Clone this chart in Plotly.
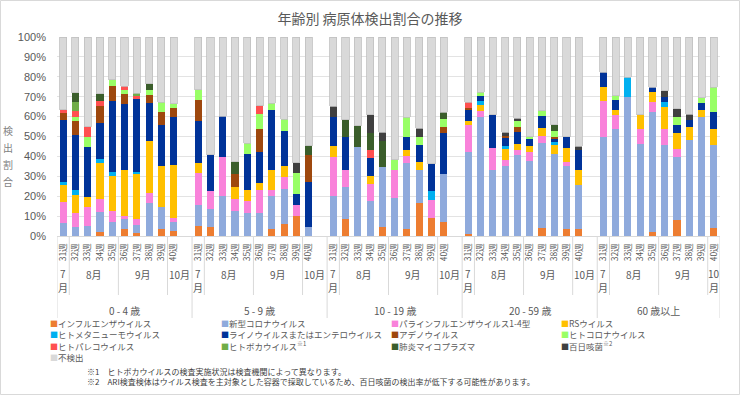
import plotly.graph_objects as go

# ---------------- data ----------------
age_groups = ["0 - 4 歳", "5 - 9 歳", "10 - 19 歳", "20 - 59 歳", "60 歳以上"]
weeks = ["31週", "32週", "33週", "34週", "35週", "36週", "37週", "38週", "39週", "40週"]
week_month = [7, 8, 8, 8, 8, 9, 9, 9, 9, 10]

series_names = [
    "インフルエンザウイルス", "新型コロナウイルス", "パラインフルエンザウイルス1-4型", "RSウイルス",
    "ヒトメタニューモウイルス", "ライノウイルスまたはエンテロウイルス", "アデノウイルス", "ヒトコロナウイルス",
    "ヒトパレコウイルス", "ヒトボカウイルス<sup>※1</sup>", "肺炎マイコプラズマ", "百日咳菌<sup>※2</sup>",
    "不検出",
]

influenza = [0, 0, 0, 2, 0, 3.4, 1.3, 0, 3.7, 2.5,
             5, 4.4, 0, 0, 0, 0, 3.4, 5.9, 10.2, 0,
             0, 8.4, 0, 0, 4.4, 0, 3.4, 16.8, 9.2, 6.9,
             1, 0, 0, 0, 0, 0, 3.9, 0, 3.4, 3.5,
             0, 0, 0, 0, 2.2, 0, 8.1, 0, 0, 3.9]
covid = [6.7, 4.4, 5, 10.2, 6.9, 5.2, 4.2, 16.8, 11.1, 4.4,
         10.6, 9, 20.1, 12.6, 11.7, 11.7, 16.7, 17.6, 0, 4.4,
         20.1, 16.4, 44.5, 17.6, 30.5, 19, 33.2, 16.4, 0, 24.1,
         41.4, 59.7, 33.2, 35.2, 40.8, 37.8, 42.7, 41.3, 31.8, 22.2,
         49.7, 53.7, 69.8, 46.3, 60, 45.8, 31.8, 48.3, 59.7, 41.6]
parainfluenza = [10.3, 7, 9.8, 6.3, 5.7, 1.5, 3.1, 4.7, 0, 2.3,
                 15.9, 9.1, 19.8, 6, 5.7, 11.5, 3.1, 5.9, 5.4, 0,
                 19.8, 8.4, 0, 8.4, 0, 14.2, 3.7, 0, 8.9, 0,
                 13.5, 2.9, 10.9, 3.1, 2.5, 4.6, 3.7, 0, 1.9, 0,
                 17.9, 7, 0, 7.4, 4.9, 8.1, 3.9, 0, 0, 0]
rsv = [8.5, 9.4, 5, 18.1, 17.8, 23.1, 22.6, 26, 20.4, 26.5,
       5.1, 0, 0, 6.2, 5.9, 3.6, 10, 5.8, 0, 0,
       5.1, 0, 0, 4.4, 0, 0, 3, 4.2, 0, 0,
       2.1, 3.2, 0, 5.5, 2.8, 2.9, 4.2, 4.2, 7, 7.5,
       7.2, 2.7, 0, 7.2, 5.2, 10.7, 7.9, 6.4, 3.4, 8.4]
hmpv = [1.8, 2.2, 0, 2.2, 2, 0, 1.2, 0, 0, 0,
        0, 0, 0, 0, 0, 0, 0, 0, 0, 0,
        0, 0, 0, 0, 0, 0, 0, 0, 4.6, 0,
        0, 1.8, 0, 1.2, 0, 0, 0, 1.5, 0, 0,
        0, 0, 10.1, 0, 0, 2.8, 0, 0, 0, 0]
rhino_entero = [31.1, 27.7, 25, 18.2, 35.6, 33.2, 36.6, 19.1, 20.7, 23.9,
                21.3, 18.3, 20.2, 0, 17.8, 15.5, 29.9, 17.7, 5.4, 22.8,
                14.7, 16.8, 0, 8.7, 0, 0, 6.7, 8.4, 13.5, 20.7,
                5.4, 3, 16.8, 4.5, 6.4, 3.4, 5.6, 1.7, 5.9, 9.8,
                7.4, 5.1, 0, 0, 2.5, 2.7, 4.2, 3.4, 3.7, 8.3]
adeno = [3.3, 7.3, 0, 8.3, 7.2, 5.1, 0, 4.5, 6.5, 4.5,
         10.6, 0, 0, 6.4, 0, 11.7, 0, 0, 0, 13.4,
         0, 0, 0, 0, 0, 0, 0, 0, 0, 3.3,
         1, 0, 0, 1, 2.5, 0, 0, 1.3, 0, 0,
         0, 0, 0, 0, 0, 0, 0, 0, 0, 0]
hcov = [0, 1.9, 5.2, 0, 3.3, 1.7, 0, 2.4, 4.7, 2.3,
        5, 0, 0, 0, 5.5, 7.4, 3.7, 5.8, 10.5, 0,
        0, 0, 0, 0, 0, 5.1, 9.7, 4.2, 0, 3.7,
        0, 1.7, 0, 0, 2.6, 1.3, 2.8, 2.9, 0, 0,
        0, 2.1, 0, 0, 0, 0, 3.8, 0, 2.8, 12.6]
parecho = [1.7, 2.7, 5, 2.3, 0, 2, 1.6, 0, 0, 0,
           0, 0, 0, 0, 0, 4, 0, 0, 0, 0,
           0, 0, 0, 4.2, 0, 0, 0, 0, 0, 0,
           2.7, 0, 0, 0, 0, 0, 0, 0, 0, 0,
           0, 0, 0, 0, 0, 0, 0, 0, 0, 0]
boca = [0, 4.5, 0, 0, 0, 0, 1.2, 0, 0, 0,
        0, 0, 0, 0, 0, 0, 0, 0, 0, 0,
        0, 0, 0, 0, 0, 0, 0, 0, 0, 0,
        0, 0, 0, 0, 0, 0, 0, 0, 0, 0,
        0, 0, 0, 0, 0, 0, 0, 0, 0, 0]
mycoplasma = [0, 5, 0, 4, 0, 0, 0, 2.9, 0, 0,
              0, 0, 0, 6.2, 0, 0, 0, 0, 0, 4.7,
              0, 8.4, 11, 8.7, 12.9, 0, 0, 0, 0, 3.4,
              0, 0, 0, 0, 0, 0, 0, 3, 0, 0,
              0, 0, 0, 0, 0, 0, 0, 0, 0, 0]
pertussis = [0, 0, 0, 0, 0, 0, 0, 0, 0, 0,
             0, 0, 0, 0, 0, 0, 0, 0, 5.4, 0,
             5.4, 0, 0, 8.9, 4.4, 0, 0, 4.2, 0, 0,
             0, 0, 0, 1.7, 1.6, 0, 0, 0, 0, 2,
             0, 0, 0, 0, 0, 2.9, 4.2, 3.1, 0, 0]
not_detected = [36.6, 27.9, 45, 28.4, 21.5, 24.8, 28.2, 23.6, 32.9, 33.6,
                26.5, 59.2, 39.9, 62.6, 53.4, 34.6, 33.2, 41.3, 63.1, 54.7,
                34.9, 41.6, 44.5, 39.1, 47.8, 61.7, 40.3, 45.8, 63.8, 37.9,
                32.9, 27.7, 39.1, 47.8, 40.8, 50, 37.1, 44.1, 50, 55,
                17.8, 29.4, 20.1, 39.1, 25.2, 27, 36.1, 38.8, 30.4, 25.2]

series_values = [influenza, covid, parainfluenza, rsv, hmpv, rhino_entero, adeno, hcov,
                 parecho, boca, mycoplasma, pertussis, not_detected]

footnotes = [
    "※1　ヒトボカウイルスの検査実施状況は検査機関によって異なります。",
    "※2　ARI検査検体はウイルス検査を主対象とした容器で採取しているため、百日咳菌の検出率が低下する可能性があります。",
]
title_text = "年齢別 病原体検出割合の推移"
y_title = "検出割合"

# ---------------- style ----------------
colors = ["#ED7D31", "#8FAADC", "#F982DA", "#FFC000", "#00B0F0", "#003399", "#9E480E",
          "#99FF66", "#FF5050", "#70AD47", "#3B5E2B", "#404040", "#D9D9D9"]
W, H = 740, 395
ML, MR, MT, MB = 57, 20, 37, 159
PW, PH = W - ML - MR, H - MT - MB
TXT = "#595959"
LINE = "#D9D9D9"
JP = "Noto Sans CJK JP"

def px_x(X):
    return (X - ML) / PW

def px_y(Y):
    return (H - MB - Y) / PH

slots_per_group = len(weeks) + 1
xpos = [g * slots_per_group + w for g in range(len(age_groups)) for w in range(len(weeks))]
nslots = slots_per_group * len(age_groups) - 1

fig = go.Figure()
for name, vals, col in zip(series_names, series_values, colors):
    fig.add_trace(go.Bar(
        x=xpos, y=vals, name=name, marker_color=col,
        marker_line=dict(width=0.8 if name == "不検出" else 0, color="#BFBFBF"),
        showlegend=False,
    ))

shapes = []
annotations = []

def month_ann(x, y, text):
    annotations.append(dict(x=x, y=px_y(y), xref="x", yref="paper", text=text,
                            showarrow=False, xanchor="center", yanchor="middle",
                            font=dict(size=10, color=TXT, family=JP)))

# month / group separators and labels
for g, grp in enumerate(age_groups):
    base = g * slots_per_group
    spans = []
    for w, m in enumerate(week_month):
        if spans and spans[-1][0] == m:
            spans[-1][2] = w
        else:
            spans.append([m, w, w])
    for i, (m, w0, w1) in enumerate(spans):
        end = w1 + (1 if (w1 == len(weeks) - 1 and g < len(age_groups) - 1) else 0)
        width = end - w0 + 1
        xc = base + (w0 + end) / 2
        if width > 1:
            month_ann(xc, 274, f"{m}月")
        else:
            month_ann(xc, 273, f"{m}")
            month_ann(xc, 287, "月")
        if i > 0:
            shapes.append(dict(type="line", xref="x", yref="paper", x0=base + w0 - 0.5,
                               x1=base + w0 - 0.5, y0=0, y1=px_y(295),
                               line=dict(color=LINE, width=1)))
    gend = base + (slots_per_group - 1 if g < len(age_groups) - 1 else len(weeks) - 1)
    annotations.append(dict(x=(base - 0.5 + gend + 0.5) / 2, y=px_y(310), xref="x", yref="paper",
                            text=grp, showarrow=False, xanchor="center", yanchor="middle",
                            font=dict(size=10, color=TXT, family=JP)))
    shapes.append(dict(type="line", xref="x", yref="paper", x0=base - 0.5, x1=base - 0.5,
                       y0=0, y1=px_y(318), line=dict(color=LINE, width=1)))
shapes.append(dict(type="line", xref="x", yref="paper", x0=nslots - 0.5, x1=nslots - 0.5,
                   y0=0, y1=px_y(318), line=dict(color=LINE, width=1)))

# legend (4 columns)
leg_cols = [48, 219, 389, 559]
leg_rows = [323, 334.3, 345.6, 357]
for i, (name, col) in enumerate(zip(series_names, colors)):
    r, c = divmod(i, 4)
    annotations.append(dict(
        x=px_x(leg_cols[c]), y=px_y(leg_rows[r]), xref="paper", yref="paper",
        xanchor="left", yanchor="middle", showarrow=False,
        text=f"<span style='color:{col};font-size:8px'>■</span>{name}",
        font=dict(size=8.5, color=TXT, family=JP)))

# footnotes
for i, fn in enumerate(footnotes):
    annotations.append(dict(x=px_x(85), y=px_y(371.5 + 9.5 * i), xref="paper", yref="paper",
                            xanchor="left", yanchor="middle", showarrow=False, text=fn,
                            font=dict(size=8, color="#404040", family=JP)))

# y-axis title (vertical, one character per line)
for i, ch in enumerate(y_title):
    annotations.append(dict(x=px_x(8), y=px_y(130 + 17 * i), xref="paper", yref="paper",
                            xanchor="center", yanchor="middle", showarrow=False, text=ch,
                            font=dict(size=10, color="#7F7F7F", family=JP)))

# chart border
shapes.append(dict(type="rect", xref="paper", yref="paper",
                   x0=px_x(0.5), x1=px_x(W - 0.5), y0=px_y(H - 0.5), y1=px_y(0.5),
                   line=dict(color=LINE, width=1), layer="below"))

fig.update_layout(
    width=W, height=H,
    margin=dict(l=ML, r=MR, t=MT, b=MB),
    barmode="stack", bargap=0.42,
    plot_bgcolor="white", paper_bgcolor="white",
    title=dict(text=title_text, x=0.5, xanchor="center", y=1 - 19 / H, yanchor="middle",
               yref="container", font=dict(size=14, color=TXT, family=JP)),
    font=dict(family=JP, color=TXT),
    shapes=shapes, annotations=annotations,
)
fig.update_xaxes(range=[-0.5, nslots - 0.5], tickmode="array", tickvals=xpos,
                 ticktext=weeks * len(age_groups), tickangle=-90,
                 tickfont=dict(size=8.5, color=TXT, family=JP),
                 showgrid=False, zeroline=False, showline=True, linecolor=LINE, linewidth=1,
                 ticks="", ticklabelstandoff=3)
fig.update_yaxes(range=[0, 100], dtick=10, ticksuffix="%", showgrid=True, gridcolor="#E3E3E3",
                 gridwidth=1, zeroline=False, showline=False, ticks="",
                 tickfont=dict(size=11, color=TXT, family="Liberation Sans"),
                 ticklabelstandoff=10)

fig.write_html("out.html", config={"displayModeBar": False},
               post_script="document.body.style.margin='0';document.body.style.overflow='hidden';")
